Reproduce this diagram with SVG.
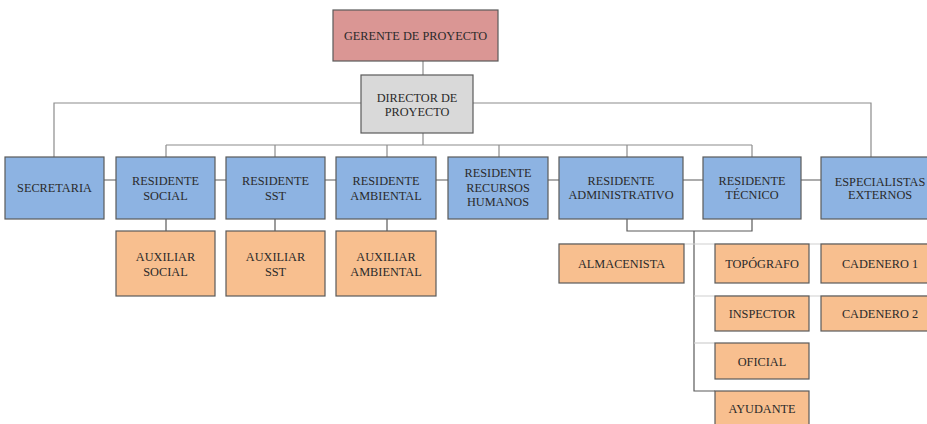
<svg xmlns="http://www.w3.org/2000/svg" width="927" height="424" viewBox="0 0 927 424">
  <style>
    .box { stroke: #5a5a5a; stroke-width: 1.2; }
    .mgr { fill: #DA9694; }
    .dir { fill: #D9D9D9; }
    .res { fill: #8DB3E2; }
    .aux { fill: #F8BF8F; }
    .lbl { font-family: "Liberation Serif", "Times New Roman", serif; font-size: 12.3px; fill: #2a2a2a; text-anchor: middle; }
    .ln { stroke: #8c8c8c; stroke-width: 1.2; fill: none; }
    .dk { stroke: #5a5a5a; stroke-width: 1.2; fill: none; }
    .lt { stroke: #cfcfcf; stroke-width: 1.2; fill: none; }
  </style>
  <rect width="927" height="424" fill="#ffffff"/>

  <g id="connectors">
    <!-- manager to director -->
    <line class="ln" x1="423" y1="61" x2="423" y2="75"/>
    <!-- director side branches -->
    <polyline class="ln" points="361,103 54,103 54,157"/>
    <polyline class="ln" points="473,103 871,103 871,157"/>
    <!-- director down to residents bus -->
    <line class="ln" x1="423" y1="133" x2="423" y2="145"/>
    <line class="ln" x1="166" y1="145" x2="752" y2="145"/>
    <line class="ln" x1="166" y1="145" x2="166" y2="157"/>
    <line class="ln" x1="275" y1="145" x2="275" y2="157"/>
    <line class="ln" x1="387" y1="145" x2="387" y2="157"/>
    <line class="ln" x1="499" y1="145" x2="499" y2="157"/>
    <line class="ln" x1="627" y1="145" x2="627" y2="157"/>
    <line class="ln" x1="752" y1="145" x2="752" y2="157"/>
    <!-- row link behind residents -->
    <line class="dk" x1="104" y1="180" x2="821" y2="180"/>
    <!-- residents to assistants -->
    <line class="dk" x1="166" y1="219" x2="166" y2="231"/>
    <line class="dk" x1="275" y1="219" x2="275" y2="231"/>
    <line class="dk" x1="387" y1="219" x2="387" y2="231"/>
    <!-- administrative / technical bracket -->
    <polyline class="dk" points="627,219 627,231 752,231 752,219"/>
    <polyline class="dk" points="694,231 694,391 715,391"/>
    <!-- light guide rows -->
    <line class="lt" x1="559" y1="244" x2="927" y2="244"/>
    <line class="lt" x1="694" y1="296" x2="927" y2="296"/>
    <line class="lt" x1="694" y1="343" x2="715" y2="343"/>
  </g>

  <g id="gerente">
    <rect class="box mgr" x="333" y="10" width="165" height="51"/>
    <text class="lbl" x="415.5" y="40">GERENTE DE PROYECTO</text>
  </g>
  <g id="director">
    <rect class="box dir" x="361" y="75" width="112" height="58"/>
    <text class="lbl" x="417" y="102">DIRECTOR DE</text>
    <text class="lbl" x="417" y="116">PROYECTO</text>
  </g>

  <g id="secretaria">
    <rect class="box res" x="5" y="157" width="99" height="62"/>
    <text class="lbl" x="54.5" y="192">SECRETARIA</text>
  </g>
  <g id="residente-social">
    <rect class="box res" x="116" y="157" width="99" height="62"/>
    <text class="lbl" x="165.5" y="185">RESIDENTE</text>
    <text class="lbl" x="165.5" y="200">SOCIAL</text>
  </g>
  <g id="residente-sst">
    <rect class="box res" x="226" y="157" width="99" height="62"/>
    <text class="lbl" x="275.5" y="185">RESIDENTE</text>
    <text class="lbl" x="275.5" y="200">SST</text>
  </g>
  <g id="residente-ambiental">
    <rect class="box res" x="336" y="157" width="100" height="62"/>
    <text class="lbl" x="386" y="185">RESIDENTE</text>
    <text class="lbl" x="386" y="200">AMBIENTAL</text>
  </g>
  <g id="residente-rrhh">
    <rect class="box res" x="448" y="157" width="100" height="62"/>
    <text class="lbl" x="498" y="177">RESIDENTE</text>
    <text class="lbl" x="498" y="192">RECURSOS</text>
    <text class="lbl" x="498" y="206">HUMANOS</text>
  </g>
  <g id="residente-administrativo">
    <rect class="box res" x="559" y="157" width="124" height="62"/>
    <text class="lbl" x="621" y="185">RESIDENTE</text>
    <text class="lbl" x="621" y="199">ADMINISTRATIVO</text>
  </g>
  <g id="residente-tecnico">
    <rect class="box res" x="703" y="157" width="98" height="62"/>
    <text class="lbl" x="752" y="185">RESIDENTE</text>
    <text class="lbl" x="752" y="199">TÉCNICO</text>
  </g>
  <g id="especialistas">
    <rect class="box res" x="821" y="157" width="118" height="62"/>
    <text class="lbl" x="880" y="186">ESPECIALISTAS</text>
    <text class="lbl" x="880" y="199">EXTERNOS</text>
  </g>

  <g id="auxiliar-social">
    <rect class="box aux" x="116" y="231" width="99" height="65"/>
    <text class="lbl" x="165.5" y="261">AUXILIAR</text>
    <text class="lbl" x="165.5" y="276">SOCIAL</text>
  </g>
  <g id="auxiliar-sst">
    <rect class="box aux" x="226" y="231" width="99" height="65"/>
    <text class="lbl" x="275.5" y="261">AUXILIAR</text>
    <text class="lbl" x="275.5" y="276">SST</text>
  </g>
  <g id="auxiliar-ambiental">
    <rect class="box aux" x="336" y="231" width="100" height="65"/>
    <text class="lbl" x="386" y="261">AUXILIAR</text>
    <text class="lbl" x="386" y="276">AMBIENTAL</text>
  </g>

  <g id="almacenista">
    <rect class="box aux" x="559" y="244" width="125" height="39"/>
    <text class="lbl" x="621.5" y="268">ALMACENISTA</text>
  </g>
  <g id="topografo">
    <rect class="box aux" x="715" y="244" width="94" height="39"/>
    <text class="lbl" x="762" y="268">TOPÓGRAFO</text>
  </g>
  <g id="cadenero-1">
    <rect class="box aux" x="821" y="244" width="118" height="39"/>
    <text class="lbl" x="880" y="268">CADENERO 1</text>
  </g>
  <g id="inspector">
    <rect class="box aux" x="715" y="296" width="94" height="35"/>
    <text class="lbl" x="762" y="318">INSPECTOR</text>
  </g>
  <g id="cadenero-2">
    <rect class="box aux" x="821" y="296" width="118" height="35"/>
    <text class="lbl" x="880" y="318">CADENERO 2</text>
  </g>
  <g id="oficial">
    <rect class="box aux" x="715" y="343" width="94" height="36"/>
    <text class="lbl" x="762" y="366">OFICIAL</text>
  </g>
  <g id="ayudante">
    <rect class="box aux" x="715" y="391" width="94" height="40"/>
    <text class="lbl" x="762" y="413">AYUDANTE</text>
  </g>
</svg>
